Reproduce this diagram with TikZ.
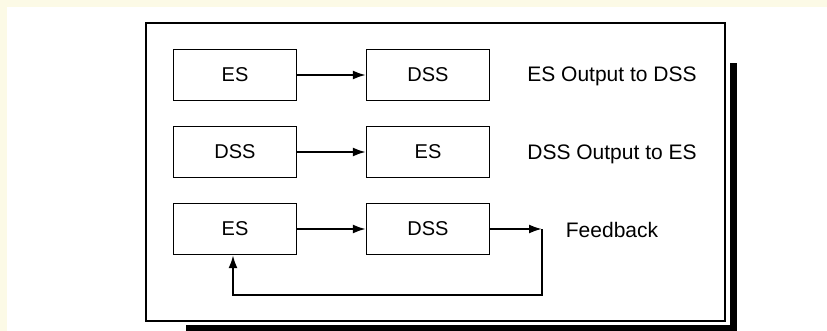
\documentclass[tikz,border=0pt]{standalone}
\usepackage{fontspec}
\setmainfont{Liberation Sans}
\usetikzlibrary{arrows.meta}
\definecolor{bgyellow}{RGB}{252,250,230}
\begin{document}
\begin{tikzpicture}[x=1pt,y=-1pt,
  box/.style={draw, line width=1.3pt, minimum width=123pt, minimum height=51pt, inner sep=0pt, font=\fontsize{20}{24}\selectfont},
  lbl/.style={font=\fontsize{21}{25}\selectfont, inner sep=0pt},
  conn/.style={line width=2pt, -{Latex[length=13pt,width=9pt]}},
  shadow/.style={fill=black}]
\useasboundingbox (0,0) rectangle (827,331);
\fill[white] (0,0) rectangle (827,331);
\fill[bgyellow] (0,0) rectangle (827,7);
\fill[bgyellow] (0,0) rectangle (7,331);
% outer frame and its shadow
\draw[line width=1.4pt] (146,23) rectangle (725,321);
\fill[shadow] (186,324.5) rectangle (737,331);
\fill[shadow] (730,63) rectangle (737,331);
% row 1
\node[box] (es1) at (235,75) {ES};
\node[box] (dss1) at (428,75) {DSS};
\node[lbl] (l1) at (612,76) {ES Output to DSS};
% row 2
\node[box] (dss2) at (235,152) {DSS};
\node[box] (es2) at (428,152) {ES};
\node[lbl] (l2) at (612,154) {DSS Output to ES};
% row 3
\node[box] (es3) at (235,229) {ES};
\node[box] (dss3) at (428,229) {DSS};
\node[lbl] (l3) at (612,230) {Feedback};
\coordinate (fb) at (542,229);
% connectors
\draw[conn] (es1) -- (dss1);
\draw[conn] (dss2) -- (es2);
\draw[conn] (es3) -- (dss3);
\draw[conn] (dss3) -- (fb);
\draw[conn] (fb) -- ++(0,66) -| ([xshift=-2pt]es3.south);
\end{tikzpicture}
\end{document}
